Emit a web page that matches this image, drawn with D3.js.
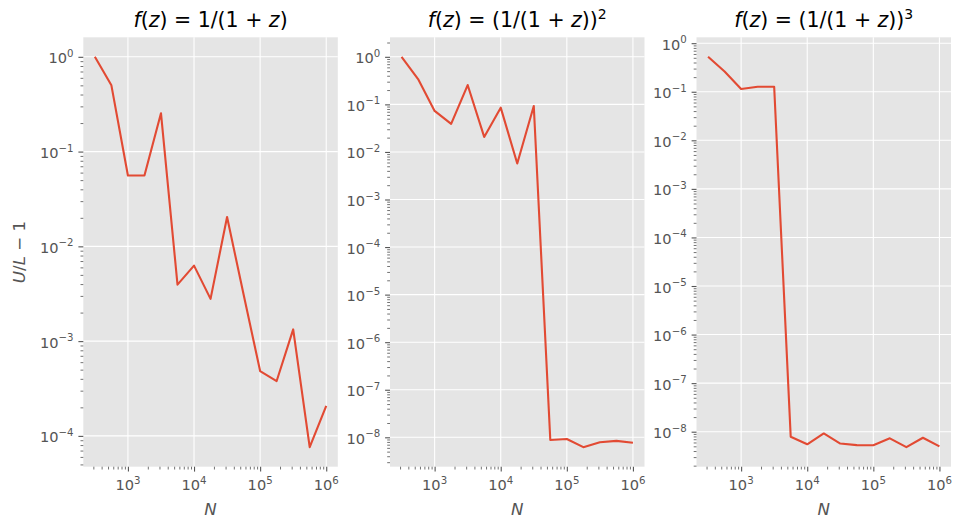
<!DOCTYPE html>
<meta charset="utf-8">
<script src="https://d3js.org/d3.v7.min.js"></script>
<style>
body { margin: 0; background: #fff; }
text { font-family: "DejaVu Sans", sans-serif; }
</style>
<body>
<svg id="vis" width="954" height="523"></svg>
<script>
// N values (10^2.5 ... 10^6, quarter decades)
var nValues = [316.2, 562.3, 1000, 1778, 3162, 5623, 10000, 17783, 31623, 56234, 100000, 177828, 316228, 562341, 1000000];
// U/L - 1 for each f(z)
var ratio1 = [1.0, 0.50, 0.056, 0.056, 0.254, 0.00395, 0.00626, 0.00279, 0.0204, 0.0031, 4.83e-4, 3.79e-4, 1.33e-3, 7.6e-5, 2.07e-4];
var ratio2 = [1.0, 0.34, 0.0728, 0.0388, 0.255, 0.0207, 0.0853, 0.00571, 0.0925, 8.8e-9, 9.2e-9, 6.2e-9, 7.9e-9, 8.4e-9, 7.7e-9];
var ratio3 = [0.524, 0.262, 0.114, 0.127, 0.127, 7.9e-9, 5.5e-9, 9.2e-9, 5.7e-9, 5.3e-9, 5.25e-9, 7.3e-9, 4.8e-9, 7.5e-9, 5.0e-9];
var series = [ratio1, ratio2, ratio3];
// titles as (text, italic, superscript) pieces
var titles = [
  [["f",1],["(",0],["z",1],[") = 1/(1 + ",0],["z",1],[")",0]],
  [["f",1],["(",0],["z",1],[") = (1/(1 + ",0],["z",1],["))",0],["2",0,1]],
  [["f",1],["(",0],["z",1],[") = (1/(1 + ",0],["z",1],["))",0],["3",0,1]]
];

var panelLeft = [83.3, 390, 696.5],
    panelW = 254.5,
    plotTop = 37.3, plotBottom = 466.7;
var tickColor = "#555555";

var svg = d3.select("#vis");

function logDomain(vals) {
  var lo = Math.log10(d3.min(vals)), hi = Math.log10(d3.max(vals));
  var m = (hi - lo) * 0.05;
  return [Math.pow(10, lo - m), Math.pow(10, hi + m)];
}

function sup(sel, base, exp) {
  sel.append("tspan").text(base);
  sel.append("tspan").attr("dy", -6.5).attr("font-size", "10.2px").text(exp);
}

function expText(k) { return k < 0 ? "\u2212" + (-k) : "" + k; }

series.forEach(function(vals, i) {
  var x0 = panelLeft[i];
  var x = d3.scaleLog().domain(logDomain(nValues)).range([x0, x0 + panelW]);
  var y = d3.scaleLog().domain(logDomain(vals)).range([plotBottom, plotTop]);
  var g = svg.append("g");

  g.append("rect").attr("x", x0).attr("y", plotTop).attr("width", panelW)
    .attr("height", plotBottom - plotTop).attr("fill", "#E5E5E5");

  // major / minor tick positions
  var xd = x.domain(), yd = y.domain();
  function majors(d) {
    var a = [];
    for (var k = Math.ceil(Math.log10(d[0]) - 1e-9); k <= Math.floor(Math.log10(d[1]) + 1e-9); k++) a.push(k);
    return a;
  }
  function minors(d) {
    var a = [];
    for (var k = Math.floor(Math.log10(d[0])); k <= Math.ceil(Math.log10(d[1])); k++)
      for (var m = 2; m <= 9; m++) {
        var v = m * Math.pow(10, k);
        if (v >= d[0] && v <= d[1]) a.push(v);
      }
    return a;
  }
  var xMaj = majors(xd), yMaj = majors(yd);

  // grid
  g.selectAll(".gx").data(xMaj).enter().append("line")
    .attr("x1", function(k) { return x(Math.pow(10, k)); })
    .attr("x2", function(k) { return x(Math.pow(10, k)); })
    .attr("y1", plotTop).attr("y2", plotBottom)
    .attr("stroke", "#fff").attr("stroke-width", 1.1);
  g.selectAll(".gy").data(yMaj).enter().append("line")
    .attr("y1", function(k) { return y(Math.pow(10, k)); })
    .attr("y2", function(k) { return y(Math.pow(10, k)); })
    .attr("x1", x0).attr("x2", x0 + panelW)
    .attr("stroke", "#fff").attr("stroke-width", 1.1);

  // x ticks
  g.append("g").attr("transform", "translate(0," + plotBottom + ")")
    .call(d3.axisBottom(x).tickValues(xMaj.map(function(k) { return Math.pow(10, k); }))
      .tickSize(4.9).tickSizeOuter(0).tickFormat(""))
    .call(function(a) { a.select(".domain").remove(); a.selectAll("line").attr("stroke", tickColor).attr("stroke-width", 1.1); });
  g.append("g").attr("transform", "translate(0," + plotBottom + ")")
    .call(d3.axisBottom(x).tickValues(minors(xd)).tickSize(2.8).tickSizeOuter(0).tickFormat(""))
    .call(function(a) { a.select(".domain").remove(); a.selectAll("line").attr("stroke", tickColor).attr("stroke-width", 0.83); });
  xMaj.forEach(function(k) {
    var t = g.append("text").attr("x", x(Math.pow(10, k))).attr("y", 490)
      .attr("text-anchor", "middle").attr("font-size", "14.6px").attr("fill", tickColor);
    sup(t, "10", expText(k));
  });

  // y ticks
  g.append("g").attr("transform", "translate(" + x0 + ",0)")
    .call(d3.axisLeft(y).tickValues(yMaj.map(function(k) { return Math.pow(10, k); }))
      .tickSize(4.9).tickSizeOuter(0).tickFormat(""))
    .call(function(a) { a.select(".domain").remove(); a.selectAll("line").attr("stroke", tickColor).attr("stroke-width", 1.1); });
  g.append("g").attr("transform", "translate(" + x0 + ",0)")
    .call(d3.axisLeft(y).tickValues(minors(yd)).tickSize(2.8).tickSizeOuter(0).tickFormat(""))
    .call(function(a) { a.select(".domain").remove(); a.selectAll("line").attr("stroke", tickColor).attr("stroke-width", 0.83); });
  yMaj.forEach(function(k) {
    var t = g.append("text").attr("x", x0 - 9.8).attr("y", y(Math.pow(10, k)) + 6.5)
      .attr("text-anchor", "end").attr("font-size", "14.6px").attr("fill", tickColor);
    sup(t, "10", expText(k));
  });

  // line
  g.append("path").datum(vals)
    .attr("d", d3.line().x(function(d, j) { return x(nValues[j]); }).y(function(d) { return y(d); }))
    .attr("fill", "none").attr("stroke", "#E24A33").attr("stroke-width", 2.1)
    .attr("stroke-linejoin", "round");

  // title
  var tt = g.append("text").attr("x", x0 + panelW / 2).attr("y", 27)
    .attr("text-anchor", "middle").attr("font-size", "20.5px").attr("fill", "#000");
  titles[i].forEach(function(p) {
    var s = tt.append("tspan").text(p[0]);
    if (p[1]) s.attr("font-style", "italic");
    if (p[2]) s.attr("dy", -8).attr("font-size", "14px");
  });

  // x label
  g.append("text").attr("x", x0 + panelW / 2).attr("y", 515)
    .attr("text-anchor", "middle").attr("font-size", "16.7px").attr("font-style", "italic")
    .attr("fill", tickColor).text("N");
});

// y label
var yl = svg.append("text").attr("transform", "translate(25," + ((plotTop + plotBottom) / 2) + ") rotate(-90)")
  .attr("text-anchor", "middle").attr("font-size", "16.7px").attr("fill", tickColor);
yl.append("tspan").attr("font-style", "italic").text("U");
yl.append("tspan").text("/");
yl.append("tspan").attr("font-style", "italic").text("L");
yl.append("tspan").text(" \u2212 1");
</script>
</body>
